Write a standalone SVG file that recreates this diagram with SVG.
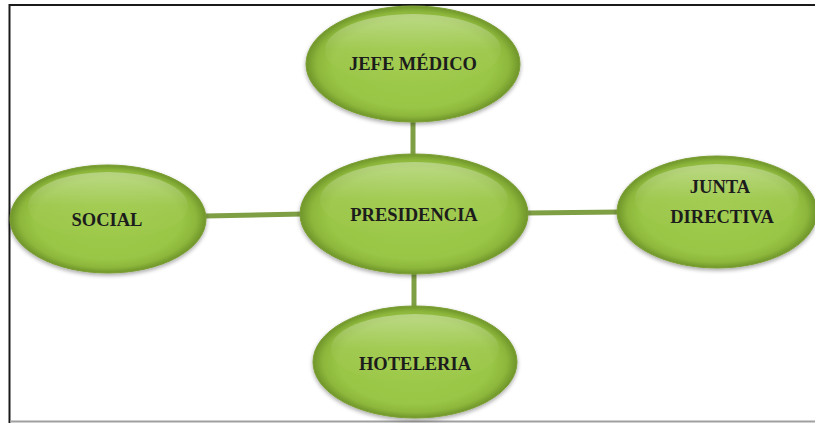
<svg xmlns="http://www.w3.org/2000/svg" width="815" height="423" viewBox="0 0 815 423">
<defs>
<radialGradient id="g" cx="50%" cy="50%" r="50%">
<stop offset="0" stop-color="#9fcb4c"/>
<stop offset="0.75" stop-color="#9ac646"/>
<stop offset="0.9" stop-color="#8cb73b"/>
<stop offset="1" stop-color="#6f952a"/>
</radialGradient>
<linearGradient id="hl" x1="0" y1="0" x2="0" y2="1">
<stop offset="0" stop-color="#ffffff" stop-opacity="0.35"/>
<stop offset="0.5" stop-color="#ffffff" stop-opacity="0.05"/>
<stop offset="1" stop-color="#ffffff" stop-opacity="0"/>
</linearGradient>
<filter id="sh" x="-10%" y="-10%" width="120%" height="130%">
<feGaussianBlur in="SourceAlpha" stdDeviation="2"/>
<feOffset dy="2"/>
<feComponentTransfer><feFuncA type="linear" slope="0.35"/></feComponentTransfer>
<feMerge><feMergeNode/><feMergeNode in="SourceGraphic"/></feMerge>
</filter>
</defs>
<style>
.n ellipse.b{fill:url(#g);stroke:#7a9e33;stroke-width:1;filter:url(#sh)}
.n ellipse.h{fill:url(#hl)}
.t{font-family:"Liberation Serif","Times New Roman",serif;font-weight:bold;font-size:18.5px;fill:#1c1c1c;text-anchor:middle}
.c line{stroke:#7f9f45;stroke-width:5}
</style>
<rect width="815" height="423" fill="#ffffff"/>
<path d="M9.5 423 V5 H815" fill="none" stroke="#1a1a1a" stroke-width="2"/>
<line x1="10" y1="421.5" x2="815" y2="421.5" stroke="#a0a0a0" stroke-width="2"/>
<g id="connectors" class="c">
<line x1="413" y1="120" x2="413" y2="156"/>
<line x1="205" y1="216" x2="303" y2="214"/>
<line x1="527" y1="213" x2="620" y2="212"/>
<line x1="414" y1="272" x2="414" y2="310"/>
</g>
<g id="jefe" class="n">
<ellipse class="b" cx="413" cy="64" rx="107" ry="58"/>
<ellipse class="h" cx="413" cy="50" rx="88" ry="36"/>
<text class="t" x="413" y="70">JEFE MÉDICO</text>
</g>
<g id="presidencia" class="n">
<ellipse class="b" cx="414" cy="214" rx="114" ry="60"/>
<ellipse class="h" cx="414" cy="200" rx="94" ry="38"/>
<text class="t" x="414" y="221">PRESIDENCIA</text>
</g>
<g id="social" class="n">
<ellipse class="b" cx="108" cy="219" rx="98" ry="54"/>
<ellipse class="h" cx="108" cy="206" rx="80" ry="34"/>
<text class="t" x="107" y="226">SOCIAL</text>
</g>
<g id="junta" class="n">
<ellipse class="b" cx="717" cy="212" rx="100" ry="56"/>
<ellipse class="h" cx="717" cy="199" rx="82" ry="35"/>
<text class="t" x="720" y="193">JUNTA</text>
<text class="t" x="722" y="223">DIRECTIVA</text>
</g>
<g id="hoteleria" class="n">
<ellipse class="b" cx="415" cy="362" rx="102" ry="56"/>
<ellipse class="h" cx="415" cy="349" rx="84" ry="35"/>
<text class="t" x="415" y="370">HOTELERIA</text>
</g>
</svg>
